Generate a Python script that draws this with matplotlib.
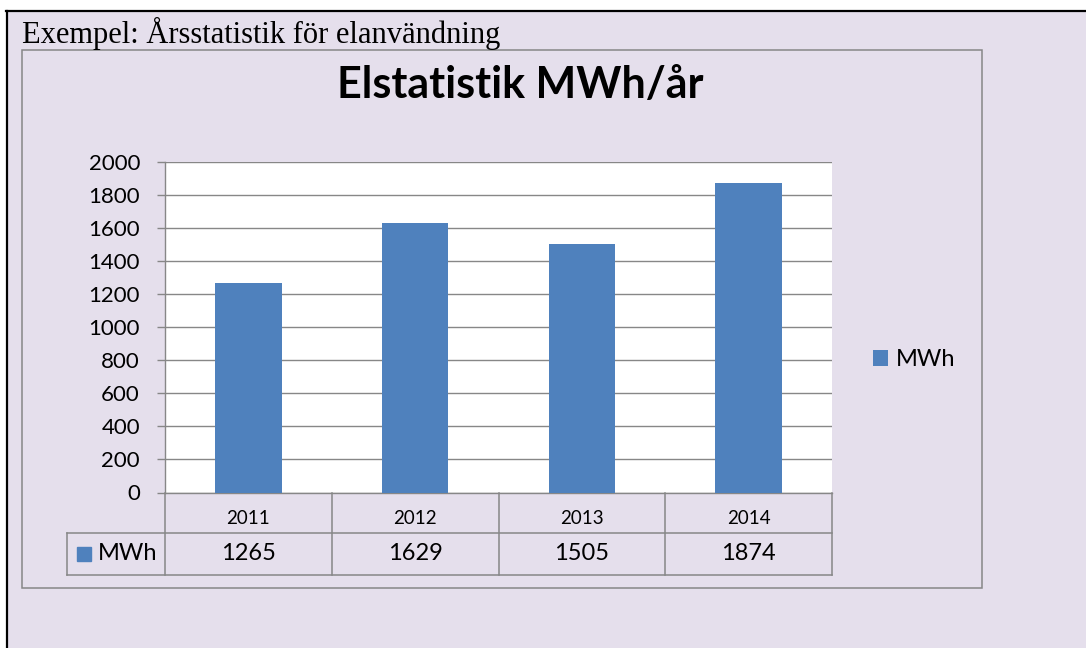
import matplotlib
matplotlib.use("Agg")
import matplotlib.pyplot as plt
import matplotlib.transforms as mtransforms
from matplotlib.lines import Line2D
from matplotlib.patches import Rectangle

# data
years = ["2011", "2012", "2013", "2014"]
mwh = [1265, 1629, 1505, 1874]
series_name = "MWh"
yticks = list(range(0, 2001, 200))

bg = "#E5DFEC"
bar_color = "#4F81BD"
gray = "#878787"

plt.rcParams["font.family"] = ["Lato", "DejaVu Sans"]

W, H = 1086, 648
fig = plt.figure(figsize=(W / 100, H / 100), dpi=100, facecolor="white")


def fx(px):
    return px / W


def fy(py):
    return 1 - py / H


# page background + black borders
fig.add_artist(Rectangle((fx(7), 0), 1 - fx(7), fy(11), transform=fig.transFigure,
                         facecolor=bg, edgecolor="none", zorder=0))
fig.add_artist(Line2D([fx(6), 1], [fy(11), fy(11)], color="black", lw=1.6))
fig.add_artist(Line2D([fx(7), fx(7)], [0, fy(11)], color="black", lw=1.6))

# chart frame
fig.add_artist(Rectangle((fx(21.7), fy(588)), fx(982) - fx(21.7), (588 - 50) / H,
                         transform=fig.transFigure, facecolor="none",
                         edgecolor=gray, lw=1.1))

fig.text(fx(22), fy(43), "Exempel: Årsstatistik för elanvändning",
         family="Liberation Serif", fontsize=22, va="baseline", ha="left")
fig.text(fx(520), fy(98), "Elstatistik MWh/år", fontsize=31, weight="bold",
         ha="center", va="baseline")

# plot area
top, bottom = 161.7, 492.5
ax = fig.add_axes([fx(165), fy(bottom), fx(832) - fx(165), (bottom - top) / H])
ax.set_facecolor("white")
x = list(range(len(years)))
bars = ax.bar(x, mwh, width=0.4, color=bar_color, zorder=3, label=series_name)
ax.set_xlim(-0.5, len(years) - 0.5)
ax.set_ylim(0, 2000)
ax.set_yticks(yticks)
ax.set_xticks([])
ax.yaxis.grid(True, color=gray, lw=1.0)
ax.set_axisbelow(True)
for s in ["top", "right"]:
    ax.spines[s].set_visible(False)
for s in ["left", "bottom"]:
    ax.spines[s].set_color(gray)
    ax.spines[s].set_linewidth(1.0)
ax.tick_params(axis="y", length=6, width=1, color=gray, labelsize=16, pad=12)

# data table under the axis
trans = mtransforms.blended_transform_factory(ax.transData, ax.transAxes)
ah = bottom - top
y_mid = -(533 - bottom) / ah
y_bot = -(575 - bottom) / ah
col_px = (832 - 165) / len(years)
x_leg = -0.5 - 98 / col_px
kw = dict(transform=trans, clip_on=False, color=gray, lw=1.1)
for b in [i - 0.5 for i in range(len(years) + 1)]:
    ax.plot([b, b], [0, y_bot], **kw)
ax.plot([x_leg, len(years) - 0.5], [y_mid, y_mid], **kw)
ax.plot([x_leg, len(years) - 0.5], [y_bot, y_bot], **kw)
ax.plot([x_leg, x_leg], [y_mid, y_bot], **kw)

for i, (yr, v) in enumerate(zip(years, mwh)):
    ax.text(i, -(519 - bottom) / ah, yr, transform=trans, ha="center",
            va="center", fontsize=13.5)
    ax.text(i, -(554 - bottom) / ah, str(v), transform=trans, ha="center",
            va="center", fontsize=17)

ax.plot([-0.5 - (165 - 83.5) / col_px], [-(554 - bottom) / ah], marker="s",
        ms=10.5, color=bar_color, transform=trans, clip_on=False, lw=0)
ax.text(-0.5 - (165 - 98) / col_px, -(554 - bottom) / ah, series_name,
        transform=trans, ha="left", va="center", fontsize=17)

# legend
fig.legend(handles=[bars], labels=[series_name], loc="center left",
           bbox_to_anchor=(fx(873), fy(360)), frameon=False, fontsize=17,
           handlelength=0.65, handleheight=0.65, handletextpad=0.3,
           borderpad=0, borderaxespad=0)

fig.savefig("out.png", dpi=100, facecolor=fig.get_facecolor())
